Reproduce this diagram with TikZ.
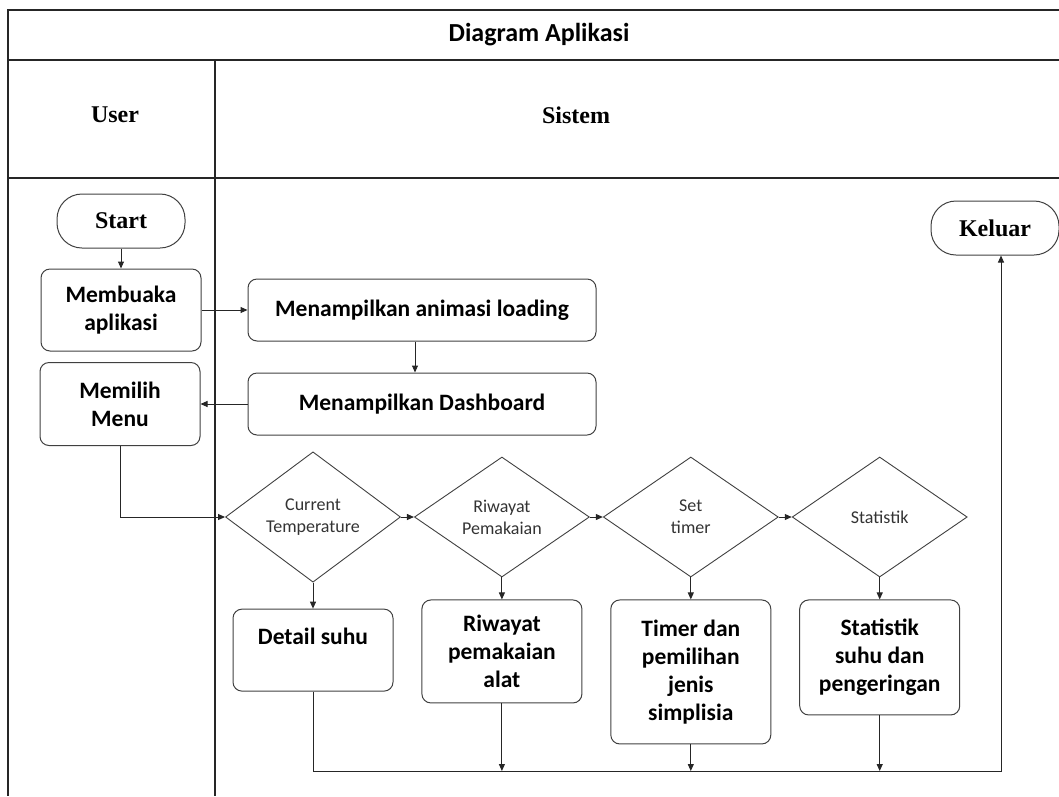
\documentclass[tikz,border=0pt]{standalone}
\usepackage{fontspec}
\setmainfont{Liberation Serif}
\setsansfont{Carlito}
\usetikzlibrary{positioning,arrows.meta,shapes.geometric}

\begin{document}
\begin{tikzpicture}[x=1pt, y=-1pt,
  frame/.style={draw=black!85, line width=1.4pt},
  box/.style={draw=black!75, line width=1pt, rounded corners=9pt, align=flush center,
              font=\sffamily\bfseries\fontsize{23.5}{28}\selectfont, inner sep=3pt, text width=154pt},
  wide/.style={text width=342pt},
  term/.style={draw=black!75, line width=1pt, rounded corners=25pt, minimum width=128pt,
               minimum height=54pt, font=\rmfamily\bfseries\fontsize{24}{28}\selectfont},
  choice/.style={diamond, draw=black!75, line width=0.9pt, minimum width=175pt, minimum height=120pt,
                 inner sep=0pt, align=flush center, text=black!80, font=\sffamily\fontsize{18}{22}\selectfont},
  lane/.style={font=\rmfamily\bfseries\fontsize{24}{28}\selectfont},
  arr/.style={-{Triangle[length=7pt,width=6pt]}, line width=1pt, black!85}]
\useasboundingbox (0,0) rectangle (1059,796);
% swimlane table
\draw[frame] (1059,10) -| (8,796);
\draw[frame] (8,60) -- (1059,60);
\draw[frame] (8,178) -- (1059,178);
\draw[frame] (215,60) -- (215,796);
\node[font=\sffamily\bfseries\fontsize{26}{28}\selectfont] (title) at (539,35) {Diagram Aplikasi};
\node[lane] (user) at (115,115) {User};
\node[lane] (sys) at (576,115) {Sistem};
% user and system steps
\node[term] (start) at (121,221) {Start};
\node[box, minimum height=82pt, below=20pt of start] (buka) {Membuaka\\aplikasi};
\node[box, wide, minimum height=62pt, right=46pt of buka] (anim) {Menampilkan animasi loading};
\node[box, wide, minimum height=62pt, below=31pt of anim.south, anchor=north] (dash) {Menampilkan Dashboard};
\node[box, minimum height=83pt, left=47pt of dash] (menu) {Memilih\\Menu};
% menu choices
\node[choice] (cur) at (313,517) {Current\\Temperature};
\node[choice, right=13pt of cur] (riw) {Riwayat\\Pemakaian};
\node[choice, right=13pt of riw] (tim) {Set\\timer};
\node[choice, right=13pt of tim] (stat) {Statistik};
\node[box, minimum height=82pt, below=26pt of cur] (suhu) {Detail suhu\\~};
\node[box, minimum height=103pt, below=22pt of riw] (pakai) {Riwayat\\pemakaian\\alat};
\node[box, minimum height=144pt, below=22pt of tim] (jenis) {Timer dan\\pemilihan\\jenis\\simplisia};
\node[box, minimum height=115pt, below=22pt of stat] (kering) {Statistik\\suhu dan\\pengeringan};
\node[term] (keluar) at (995,228) {Keluar};
\coordinate (jn) at (1001,771);
% connectors
\draw[arr] (start) -- (buka);
\draw[arr] (buka) -- (anim);
\draw[arr] (anim.south -| 415,0) -- (dash.north -| 415,0);
\draw[arr] (dash) -- (menu);
\draw[arr] (menu.south) |- (cur.west);
\draw[arr] (cur) -- (riw); \draw[arr] (riw) -- (tim); \draw[arr] (tim) -- (stat);
\draw[arr] (cur) -- (suhu); \draw[arr] (riw) -- (pakai); \draw[arr] (tim) -- (jenis); \draw[arr] (stat) -- (kering);
\draw[arr] (suhu.south) |- (jn) -- (keluar.south -| jn);
\draw[arr] (pakai.south) -- (pakai.south |- jn);
\draw[arr] (jenis.south) -- (jenis.south |- jn);
\draw[arr] (kering.south) -- (kering.south |- jn);
\end{tikzpicture}
\end{document}
